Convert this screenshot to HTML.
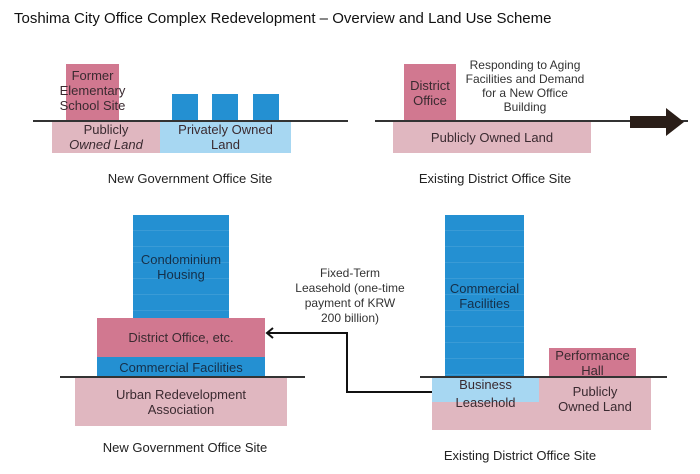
<!DOCTYPE html>
<html><head><style>
body{margin:0;width:700px;height:474px;background:#fff;position:relative;overflow:hidden;font-family:"Liberation Sans",sans-serif;color:#333}
.a{position:absolute;box-sizing:border-box}
.t{display:flex;align-items:center;justify-content:center;text-align:center;font-size:13px;line-height:15px;color:#3a2a30}
.pk{background:#d17890}.lp{background:#e0b7c0}.bl{background:#2490d2}.lb{background:#a7d7f2}
.ln{height:2px;background:#333}
.cap{font-size:13px;color:#222;text-align:center}
.bl.t{color:#15304a}
.st{background:repeating-linear-gradient(#2490d2 0 15px,#3a9bd6 15px 16px)}
</style></head><body>
<div class="a" style="left:14px;top:10px;font-size:15px;color:#111">Toshima City Office Complex Redevelopment – Overview and Land Use Scheme</div>

<div class="a pk t" style="left:66px;top:64px;width:53px;height:57px;align-items:flex-start;padding-top:4px;white-space:nowrap">Former<br>Elementary<br>School Site</div>
<div class="a bl" style="left:172px;top:94px;width:26px;height:27px"></div>
<div class="a bl" style="left:212px;top:94px;width:26px;height:27px"></div>
<div class="a bl" style="left:253px;top:94px;width:26px;height:27px"></div>
<div class="a lp t" style="left:52px;top:121px;width:108px;height:32px"><span>Publicly<br><i>Owned Land</i></span></div>
<div class="a lb t" style="left:160px;top:121px;width:131px;height:32px">Privately Owned<br>Land</div>
<div class="a ln" style="left:33px;top:120px;width:315px"></div>
<div class="a cap" style="left:80px;top:171px;width:220px">New Government Office Site</div>

<div class="a pk t" style="left:404px;top:64px;width:52px;height:57px">District<br>Office</div>
<div class="a t" style="left:460px;top:56px;width:130px;height:60px;font-size:12px;line-height:14px;color:#333">Responding to Aging Facilities and Demand for a New Office Building</div>
<div class="a lp t" style="left:393px;top:121px;width:198px;height:32px">Publicly Owned Land</div>
<div class="a ln" style="left:375px;top:120px;width:313px"></div>
<div class="a cap" style="left:390px;top:171px;width:210px">Existing District Office Site</div>
<svg class="a" style="left:628px;top:106px" width="58" height="32"><polygon points="2,10 38,10 38,2 56,16 38,30 38,22 2,22" fill="#2a1e18"/></svg>

<div class="a bl t st" style="left:133px;top:215px;width:96px;height:103px">Condominium<br>Housing</div>
<div class="a pk t" style="left:97px;top:318px;width:168px;height:39px">District Office, etc.</div>
<div class="a bl t" style="left:97px;top:357px;width:168px;height:20px">Commercial Facilities</div>
<div class="a lp t" style="left:75px;top:377px;width:212px;height:49px">Urban Redevelopment<br>Association</div>
<div class="a ln" style="left:60px;top:376px;width:245px"></div>
<div class="a cap" style="left:70px;top:440px;width:230px">New Government Office Site</div>

<div class="a t" style="left:295px;top:266px;width:110px;height:60px;font-size:12px;line-height:15px;color:#333">Fixed-Term Leasehold (one-time payment of KRW 200 billion)</div>
<svg class="a" style="left:262px;top:326px" width="175" height="72"><polyline points="172,66 85,66 85,7 6,7" fill="none" stroke="#111" stroke-width="2"/><polyline points="11,2 5,7 11,12" fill="none" stroke="#111" stroke-width="2"/></svg>

<div class="a bl t st" style="left:445px;top:215px;width:79px;height:162px">Commercial<br>Facilities</div>
<div class="a lp" style="left:432px;top:377px;width:219px;height:53px"></div>
<div class="a lb t" style="left:432px;top:377px;width:107px;height:25px;align-items:flex-start;line-height:15px">Business</div>
<div class="a t" style="left:432px;top:393px;width:107px;height:18px">Leasehold</div>
<div class="a t" style="left:539px;top:379px;width:112px;height:40px">Publicly<br>Owned Land</div>
<div class="a pk t" style="left:549px;top:348px;width:87px;height:29px">Performance<br>Hall</div>
<div class="a ln" style="left:420px;top:376px;width:247px"></div>
<div class="a cap" style="left:410px;top:448px;width:220px">Existing District Office Site</div>
</body></html>
